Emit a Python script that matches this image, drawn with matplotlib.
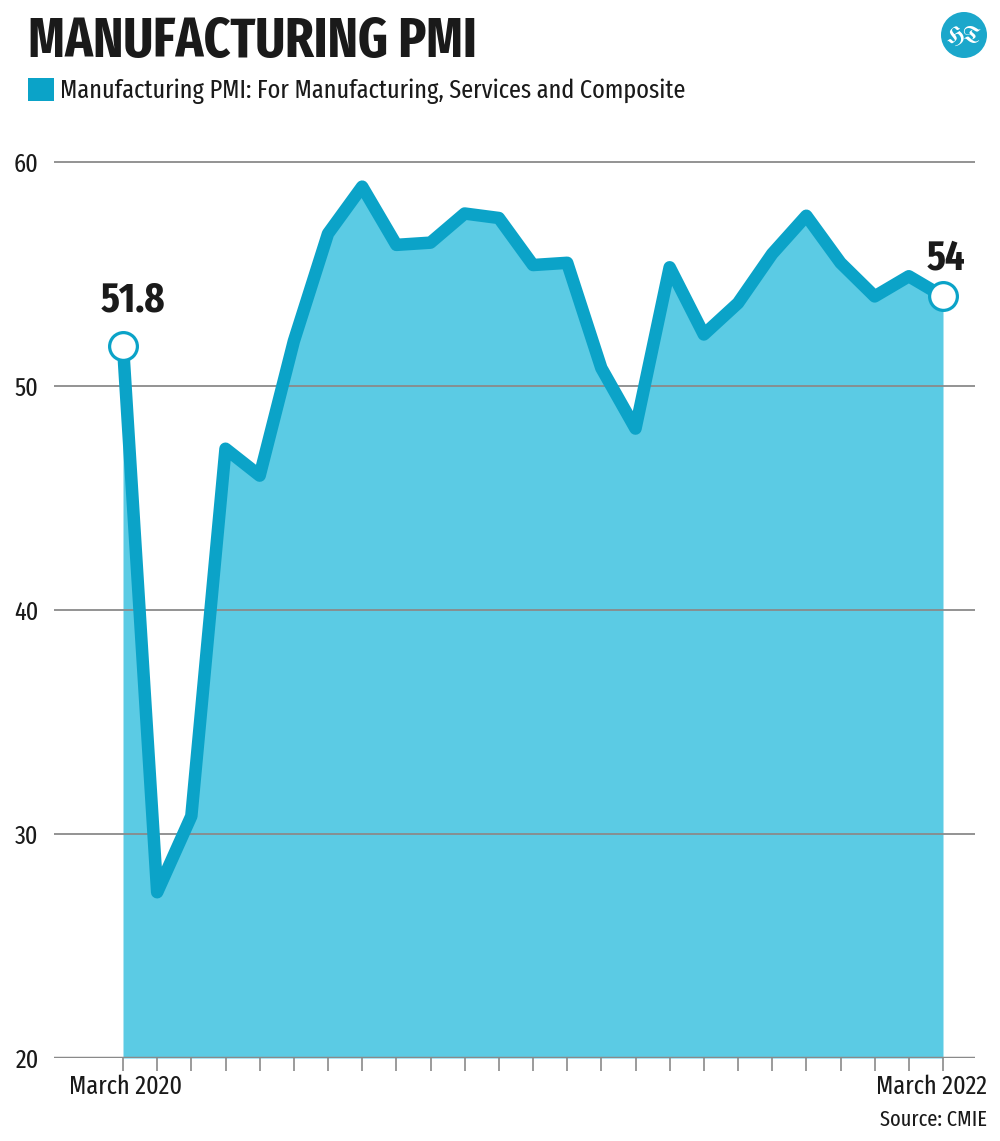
import numpy as np
import matplotlib.pyplot as plt
from matplotlib.patches import Ellipse, Rectangle

# Monthly manufacturing PMI, March 2020 .. March 2022
months = ["Mar 2020", "Apr 2020", "May 2020", "Jun 2020", "Jul 2020", "Aug 2020",
          "Sep 2020", "Oct 2020", "Nov 2020", "Dec 2020", "Jan 2021", "Feb 2021",
          "Mar 2021", "Apr 2021", "May 2021", "Jun 2021", "Jul 2021", "Aug 2021",
          "Sep 2021", "Oct 2021", "Nov 2021", "Dec 2021", "Jan 2022", "Feb 2022",
          "Mar 2022"]
pmi = [51.8, 27.4, 30.8, 47.2, 46.0, 52.0, 56.8, 58.9, 56.3, 56.4, 57.7, 57.5,
       55.4, 55.5, 50.8, 48.1, 55.3, 52.3, 53.7, 55.9, 57.6, 55.5, 54.0, 54.9,
       54.0]
yticks = [20, 30, 40, 50, 60]
first_label = "March 2020"
last_label = "March 2022"

LINE = "#0ba3c8"
FILL = "#5bcbe4"
GRID = "#8a8a8a"
INK = "#1a1a1a"
plt.rcParams["font.family"] = ["Fira Sans Extra Condensed", "DejaVu Sans"]

W, H = 1000, 1141
fig = plt.figure(figsize=(W / 100, H / 100), dpi=100)

# axes placed in pixel terms
ax_l, ax_r, ax_b, ax_t = 54, 975, 1058, 100
ax = fig.add_axes([ax_l / W, 1 - ax_b / H, (ax_r - ax_l) / W, (ax_b - ax_t) / H])

x = np.arange(len(pmi))
px_per_month = (943 - 123) / (len(pmi) - 1)
ax.set_xlim(-(123 - ax_l) / px_per_month, len(pmi) - 1 + (ax_r - 943) / px_per_month)
ax.set_ylim(20, 60 + (162 - ax_t) / 22.4)

ax.fill_between(x, pmi, 20, color=FILL, lw=0, zorder=1)
ax.plot(x, pmi, color=LINE, lw=9, solid_joinstyle="round", solid_capstyle="butt", zorder=3)
ax.plot([x[0], x[-1]], [pmi[0], pmi[-1]], "o", ms=20, mfc="white", mec=LINE, mew=2.3, zorder=4)

for yv in yticks[1:]:
    ax.axhline(yv, color=GRID, lw=1.3, zorder=2)
ax.axhline(20, color=GRID, lw=2.5, zorder=2)

for s in ax.spines.values():
    s.set_visible(False)

ax.set_xticks(x)
ax.set_xticklabels([""] * len(x))
ax.tick_params(axis="x", length=9.5, width=1.2, color=GRID, pad=4)
ax.set_yticks(yticks)
ax.set_yticklabels([str(v) for v in yticks], fontsize=19, color=INK)
ax.tick_params(axis="y", length=0, pad=11)

ax.annotate(first_label, (x[0], 20), xytext=(2, -26), textcoords="offset points",
            ha="center", va="baseline", fontsize=19, color=INK)
ax.annotate(last_label, (x[-1], 20), xytext=(-8, -26), textcoords="offset points",
            ha="center", va="baseline", fontsize=19, color=INK)

# value labels at both ends
ax.annotate(f"{pmi[0]:g}", (x[0], pmi[0]), xytext=(7, 24.5), textcoords="offset points",
            ha="center", va="baseline", fontsize=30, fontweight="bold", color=INK)
ax.annotate(f"{pmi[-1]:g}", (x[-1], pmi[-1]), xytext=(2, 19.5), textcoords="offset points",
            ha="center", va="baseline", fontsize=30, fontweight="bold", color=INK)

# header
fig.text(28 / W, 1 - 57 / H, "MANUFACTURING PMI", fontsize=40, fontweight="bold",
         color=INK, va="baseline", ha="left")
fig.patches.append(Rectangle((28 / W, 1 - 101 / H), 26 / W, 23 / H,
                             transform=fig.transFigure, color=LINE, lw=0))
fig.text(60 / W, 1 - 98 / H, "Manufacturing PMI: For Manufacturing, Services and Composite",
         fontsize=19, color=INK, va="baseline", ha="left")

# HT logo
fig.patches.append(Ellipse((964 / W, 1 - 35 / H), 46 / W, 46 / H,
                           transform=fig.transFigure, color="#1ba7cb", lw=0))
fig.text(964 / W, 1 - 36 / H, "HT", fontsize=17, fontweight="bold", fontstyle="italic",
         family=["UnifrakturMaguntia", "DejaVu Serif"], color="white",
         ha="center", va="center")

fig.text(987 / W, 1 - 1126 / H, "Source: CMIE", fontsize=16, color=INK,
         ha="right", va="baseline")

fig.savefig("out.png", dpi=100, facecolor="white")
